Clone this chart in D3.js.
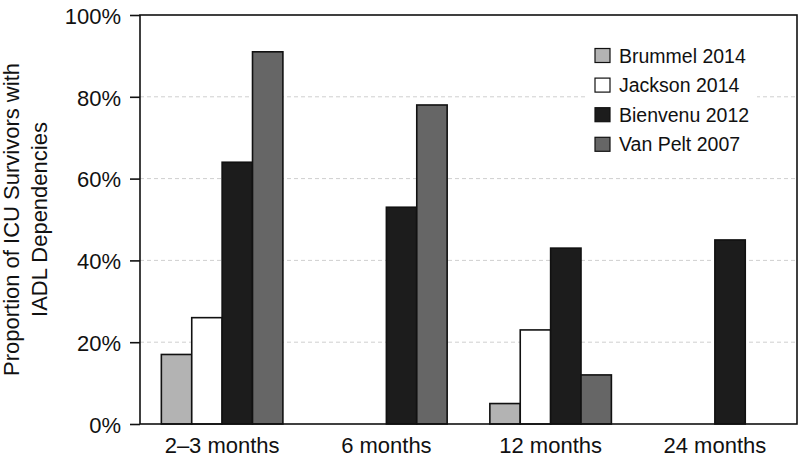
<!DOCTYPE html>
<html>
<head>
<meta charset="utf-8">
<script src="https://cdn.jsdelivr.net/npm/d3@7"></script>
<style>
  body { margin: 0; background: #fff; }
  svg { display: block; font-family: "Liberation Sans", Arial, Helvetica, sans-serif; }
</style>
</head>
<body>
<svg id="chart" width="799" height="458"></svg>
<script>
const categories = ["2\u20133 months", "6 months", "12 months", "24 months"];
const seriesNames = ["Brummel 2014", "Jackson 2014", "Bienvenu 2012", "Van Pelt 2007"];
const brummel  = [17, null, 5, null];
const jackson  = [26, null, 23, null];
const bienvenu = [64, 53, 43, 45];
const vanPelt  = [91, 78, 12, null];
const yTicks = [0, 20, 40, 60, 80, 100];
const colors = ["#b3b3b3", "#ffffff", "#1c1c1c", "#666666"];

const seriesValues = [brummel, jackson, bienvenu, vanPelt];

const svg = d3.select("#chart");
const pLeft = 140, pRight = 797, pTop = 15, pBottom = 424;

const x0 = d3.scaleBand().domain(categories).range([pLeft, pRight])
  .paddingInner(0.26).paddingOuter(0.13);
const x1 = d3.scaleBand().domain(seriesNames).range([0, x0.bandwidth()]).padding(0);
const y = d3.scaleLinear().domain([0, 100]).range([pBottom, pTop]);

// grid lines
svg.append("g").selectAll("line")
  .data(yTicks.filter(t => t > 0 && t < 100))
  .join("line")
  .attr("x1", pLeft).attr("x2", pRight)
  .attr("y1", d => y(d)).attr("y2", d => y(d))
  .attr("stroke", "#cfcfcf").attr("stroke-width", 1)
  .attr("stroke-dasharray", "4,3");

// legend background (covers grid lines)
const legend = svg.append("g");
legend.append("rect")
  .attr("x", 587).attr("y", 38).attr("width", 170).attr("height", 124)
  .attr("fill", "#fff");

// bars
const groups = svg.append("g").selectAll("g")
  .data(categories)
  .join("g")
  .attr("transform", d => `translate(${x0(d)},0)`);

groups.selectAll("rect")
  .data((c, i) => seriesNames.map((s, j) => ({ s, j, v: seriesValues[j][i] })).filter(d => d.v != null))
  .join("rect")
  .attr("x", d => x1(d.s))
  .attr("width", x1.bandwidth())
  .attr("y", d => y(d.v))
  .attr("height", d => y(0) - y(d.v))
  .attr("fill", d => colors[d.j])
  .attr("stroke", "#111")
  .attr("stroke-width", 1.6);

// frame
svg.append("rect")
  .attr("x", pLeft).attr("y", pTop)
  .attr("width", pRight - pLeft).attr("height", pBottom - pTop)
  .attr("fill", "none").attr("stroke", "#111").attr("stroke-width", 1.6);

// y axis
const yAxis = svg.append("g")
  .attr("transform", `translate(${pLeft},0)`)
  .call(d3.axisLeft(y).tickValues(yTicks).tickFormat(d => d + "%").tickSize(10).tickPadding(9));
yAxis.select(".domain").remove();
yAxis.selectAll(".tick line").attr("stroke", "#111").attr("stroke-width", 1.6);
yAxis.selectAll(".tick text")
  .attr("font-size", 22).attr("fill", "#111").attr("dy", "0.38em")
  .attr("font-family", "'Liberation Sans', Arial, sans-serif");

// x axis labels
const xAxis = svg.append("g")
  .attr("transform", `translate(0,${pBottom})`)
  .call(d3.axisBottom(x0).tickSize(0).tickPadding(13));
xAxis.select(".domain").remove();
xAxis.selectAll(".tick text")
  .attr("font-size", 22).attr("fill", "#111")
  .attr("font-family", "'Liberation Sans', Arial, sans-serif");

// y axis title
const yTitle = svg.append("text")
  .attr("transform", `translate(0,${(pTop + pBottom) / 2}) rotate(-90)`)
  .attr("text-anchor", "middle")
  .attr("font-size", 22).attr("fill", "#111");
yTitle.append("tspan").attr("x", 0).attr("y", 19).text("Proportion of ICU Survivors with");
yTitle.append("tspan").attr("x", 0).attr("y", 47).text("IADL Dependencies");

// legend items
const items = legend.selectAll("g.item")
  .data(seriesNames)
  .join("g")
  .attr("class", "item")
  .attr("transform", (d, i) => `translate(595,${48.5 + i * 29.6})`);
items.append("rect")
  .attr("width", 15).attr("height", 14)
  .attr("fill", (d, i) => colors[i])
  .attr("stroke", "#111").attr("stroke-width", 1.2);
items.append("text")
  .attr("x", 24).attr("y", 14)
  .attr("font-size", 19.5).attr("fill", "#111")
  .text(d => d);
</script>
</body>
</html>
